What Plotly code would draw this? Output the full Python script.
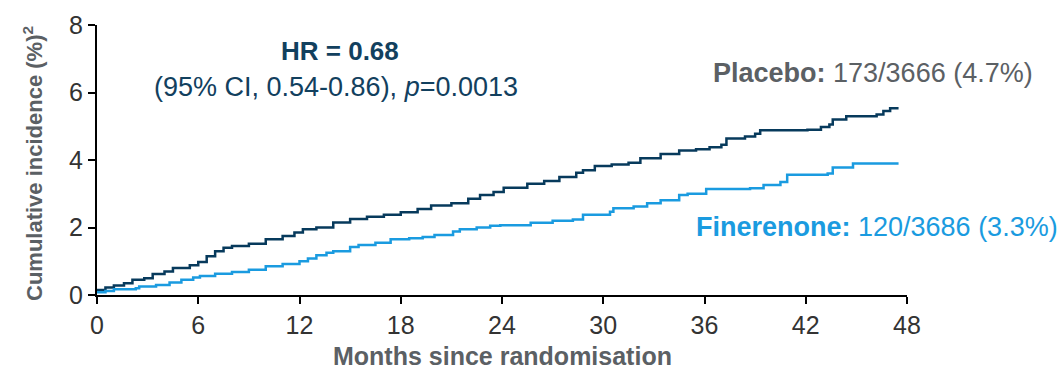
import plotly.graph_objects as go

# Placebo step curve (months, cumulative incidence %)
placebo_t = [0, 0.5, 1, 1.6, 2.1, 2.8, 3.3, 4, 4.5, 5.5, 6, 6.5, 7, 7.5, 8, 9, 10, 11, 11.7, 12.2,
             13, 14, 15, 16, 17, 18, 19, 19.8, 21, 22, 22.7, 23.5, 24.1, 25.5, 26.5, 27.4, 28.4,
             28.8, 29.5, 30.5, 31.5, 32.2, 33.4, 34.5, 35.5, 36.3, 37, 37.3, 38.4, 39, 39.3,
             42.1, 42.9, 43.4, 43.6, 44.4, 46.2, 46.6, 47, 47.5]
placebo_y = [0.15, 0.22, 0.28, 0.35, 0.45, 0.5, 0.62, 0.7, 0.8, 0.88, 0.98, 1.15, 1.3, 1.4, 1.45,
             1.52, 1.65, 1.75, 1.85, 1.95, 2.0, 2.15, 2.25, 2.32, 2.38, 2.45, 2.55, 2.65, 2.72,
             2.85, 2.96, 3.05, 3.18, 3.3, 3.38, 3.5, 3.62, 3.7, 3.82, 3.87, 3.92, 4.05, 4.18,
             4.28, 4.32, 4.38, 4.45, 4.64, 4.7, 4.78, 4.88, 4.9, 4.98, 5.05, 5.2, 5.3, 5.35,
             5.45, 5.53, 5.53]

# Finerenone step curve
finer_t = [0, 0.5, 1, 2.3, 2.5, 3.5, 4.3, 5, 5.7, 6.1, 7, 8, 9, 10, 11, 12, 12.5, 13, 13.6, 14,
           15, 15.5, 16.5, 17.4, 18.5, 19.3, 20, 21.1, 21.5, 22.5, 23.3, 23.9, 25.7, 27, 28.2,
           28.8, 30.4, 30.6, 31.8, 32.6, 33.4, 34.5, 35, 36.1, 38.7, 39.5, 40.5, 40.9, 43.3,
           43.6, 44.8, 47.5]
finer_y = [0.08, 0.12, 0.17, 0.2, 0.25, 0.3, 0.37, 0.45, 0.52, 0.56, 0.63, 0.68, 0.75, 0.85,
           0.92, 1.0, 1.08, 1.18, 1.25, 1.3, 1.42, 1.48, 1.55, 1.65, 1.68, 1.72, 1.78, 1.88,
           1.95, 2.0, 2.05, 2.07, 2.14, 2.2, 2.24, 2.38, 2.47, 2.57, 2.62, 2.72, 2.81, 2.96,
           3.0, 3.14, 3.16, 3.26, 3.35, 3.56, 3.6, 3.78, 3.9, 3.9]

x_ticks = [0, 6, 12, 18, 24, 30, 36, 42, 48]
y_ticks = [0, 2, 4, 6, 8]

NAVY = "#073a5c"
TXTNAVY = "#12405e"
LIGHT = "#1a9be0"
GRAY = "#5b6064"
FONT = "Liberation Sans, Arial, sans-serif"

fig = go.Figure()
fig.add_trace(go.Scatter(x=placebo_t, y=placebo_y, mode="lines", line_shape="hv",
                         line=dict(color=NAVY, width=2.5), name="Placebo"))
fig.add_trace(go.Scatter(x=finer_t, y=finer_y, mode="lines", line_shape="hv",
                         line=dict(color=LIGHT, width=2.5), name="Finerenone"))

W, H = 1063, 370
L, R, T, B = 97, 156, 25, 75

fig.update_layout(
    width=W, height=H,
    margin=dict(l=L, r=R, t=T, b=B),
    paper_bgcolor="white", plot_bgcolor="white",
    showlegend=False,
    font=dict(family=FONT),
    xaxis=dict(range=[0, 48], tickvals=x_ticks, showline=True, linecolor="black", linewidth=2,
               ticks="outside", ticklen=7, tickwidth=2, tickcolor="black", showgrid=False,
               zeroline=False, tickfont=dict(size=25, color="#333333"), fixedrange=True),
    yaxis=dict(range=[0, 8], tickvals=y_ticks, showline=True, linecolor="black", linewidth=2,
               ticks="outside", ticklen=7, tickwidth=2, tickcolor="black", showgrid=False,
               zeroline=False, tickfont=dict(size=25, color="#333333"), fixedrange=True),
)

anns = [
    dict(text="<b>Months since randomisation</b>", x=502, y=356, font=dict(size=25, color=GRAY)),
    dict(text="<b>Cumulative incidence (%)<sup>2</sup></b>", x=33, y=164, textangle=-90,
         font=dict(size=22, color=GRAY)),
    dict(text="<b>HR = 0.68</b>", x=340, y=51, font=dict(size=26, color=TXTNAVY)),
    dict(text="(95% CI, 0.54-0.86), <i>p</i>=0.0013", x=336, y=87, font=dict(size=27, color=TXTNAVY)),
    dict(text="<b>Placebo:</b> 173/3666 (4.7%)", x=1035, y=73, xanchor="right",
         font=dict(size=27, color=GRAY)),
    dict(text="<b>Finerenone:</b> 120/3686 (3.3%)", x=1060, y=227, xanchor="right",
         font=dict(size=27, color=LIGHT)),
]
pw, ph = W - L - R, H - T - B
for a in anns:
    xa = a.get("xanchor", "center")
    px = (a["x"] - L) / pw
    py = 1 - (a["y"] - T) / ph
    fig.add_annotation(text=a["text"], x=px, y=py, xref="paper", yref="paper",
                       xanchor=xa, yanchor="middle", showarrow=False,
                       textangle=a.get("textangle", 0), font=a["font"])

fig.write_html("out.html", config={"displayModeBar": False},
               post_script="document.body.style.margin='0';document.body.style.padding='0';")
